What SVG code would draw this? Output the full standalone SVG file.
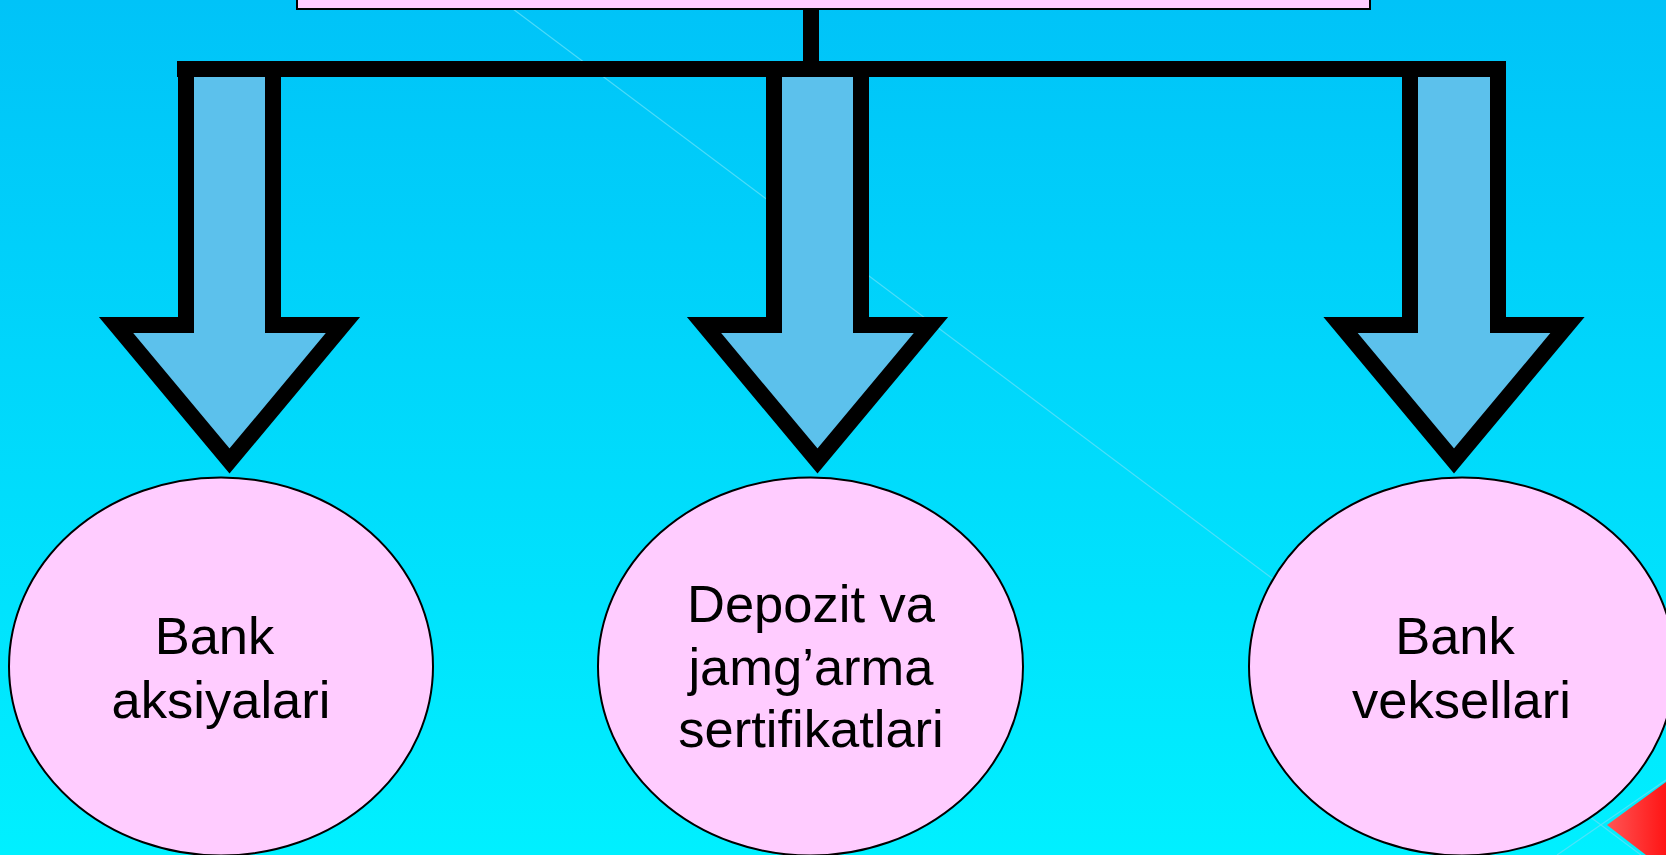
<svg xmlns="http://www.w3.org/2000/svg" width="1666" height="855" viewBox="0 0 1666 855">
  <defs>
    <linearGradient id="bg" x1="0" y1="0" x2="0" y2="1">
      <stop offset="0" stop-color="#00C3F8"/>
      <stop offset="1" stop-color="#00F0FF"/>
    </linearGradient>
    <linearGradient id="red" x1="0" y1="0" x2="1" y2="0">
      <stop offset="0" stop-color="#FF5555"/>
      <stop offset="1" stop-color="#FF1515"/>
    </linearGradient>
  </defs>
  <style>
    .arrow { fill: #5CC1EC; stroke: #000; stroke-width: 16; stroke-linejoin: miter; }
    .node { fill: #FFCCFF; stroke: #000; stroke-width: 2; }
    .label { font-family: "Liberation Sans", Arial, sans-serif; font-size: 52.5px; fill: #000; text-anchor: middle; }
    .faint { stroke: #5FE0F8; stroke-width: 1.2; fill: none; opacity: 0.8; }
  </style>

  <rect x="0" y="0" width="1666" height="855" fill="url(#bg)"/>
  <g id="decor">
    <line class="faint" x1="501" y1="0" x2="1641" y2="855"/>
    <line class="faint" x1="1557" y1="855" x2="1666" y2="780"/>
    <polygon points="1607,825 1666,782 1666,855 1646,855" fill="url(#red)"/>
  </g>

  <g id="top-box">
    <rect class="node" x="297" y="-20" width="1073" height="29"/>
  </g>

  <g id="connectors">
    <rect x="803" y="9" width="16" height="56" fill="#000"/>
    <polygon class="arrow" points="186,69 186,325 116,325 229.5,461 343,325 273,325 273,69"/>
    <polygon class="arrow" points="774,69 774,325 704,325 817.5,461 931,325 861,325 861,69"/>
    <polygon class="arrow" points="1410,69 1410,325 1340.5,325 1454,461 1567.5,325 1498,325 1498,69"/>
    <rect x="177" y="61" width="1329" height="16" fill="#000"/>
  </g>

  <g id="node-bank-aksiyalari">
    <ellipse class="node" cx="221" cy="666.5" rx="212" ry="189"/>
    <text class="label" x="214.5" y="654">Bank</text>
    <text class="label" x="221" y="718">aksiyalari</text>
  </g>

  <g id="node-depozit">
    <ellipse class="node" cx="810.5" cy="666.5" rx="212.5" ry="189"/>
    <text class="label" x="811" y="622">Depozit va</text>
    <text class="label" x="811" y="685">jamg’arma</text>
    <text class="label" x="811" y="747">sertifikatlari</text>
  </g>

  <g id="node-bank-veksellari">
    <ellipse class="node" cx="1462" cy="666.5" rx="213" ry="189"/>
    <text class="label" x="1455" y="654">Bank</text>
    <text class="label" x="1461.5" y="718">veksellari</text>
  </g>
</svg>
